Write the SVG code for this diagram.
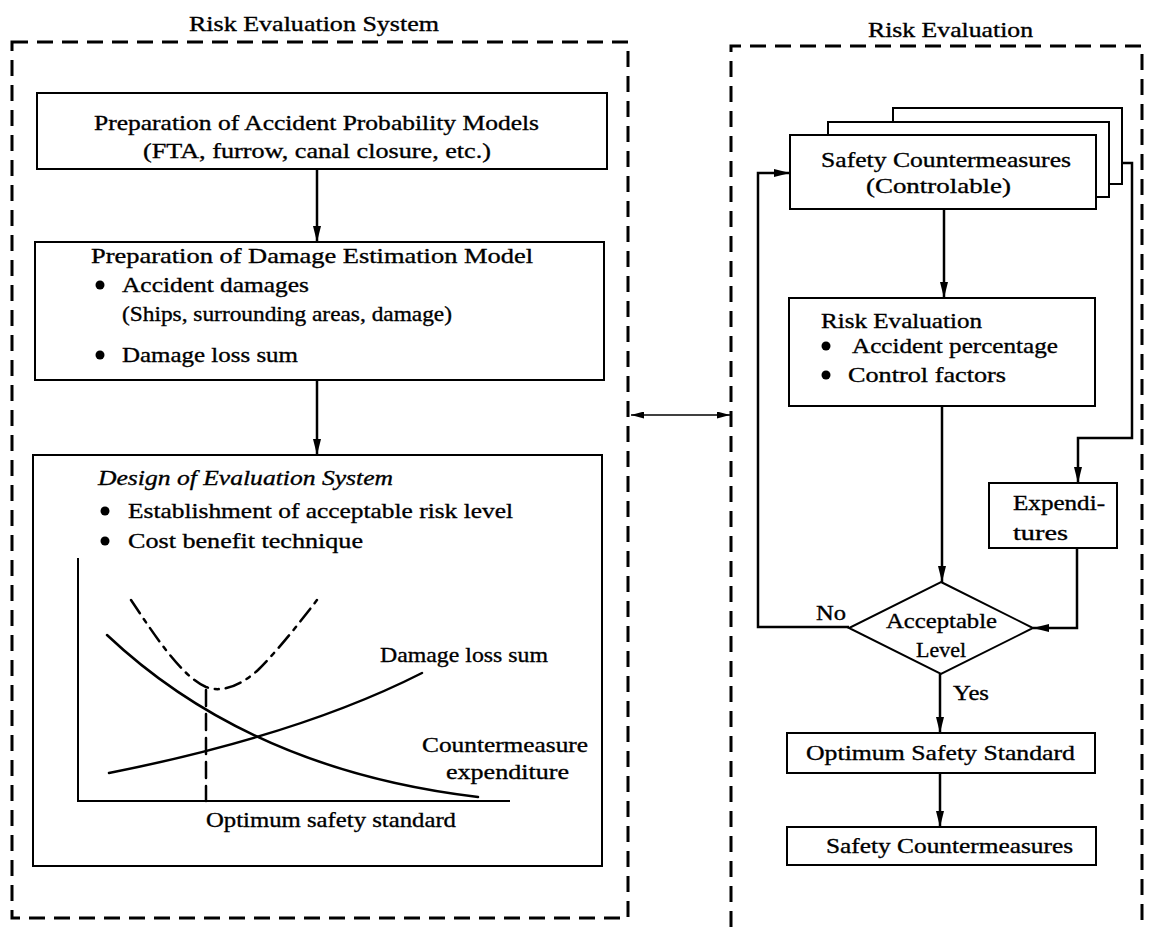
<svg xmlns="http://www.w3.org/2000/svg" width="1149" height="927" viewBox="0 0 1149 927">
  <style>
    .t { font-family: "Liberation Serif", "Times New Roman", serif; font-size: 22px; fill: #000; stroke: #000; stroke-width: 0.35; }
    .it { font-style: italic; }
    .box { fill: #fff; stroke: #000; stroke-width: 2; }
    .frame { fill: none; stroke: #000; stroke-width: 3; stroke-dasharray: 16 9; }
    .conn { fill: none; stroke: #000; stroke-width: 2.5; }
    .thin { fill: none; stroke: #000; stroke-width: 1.6; }
    .axis { fill: none; stroke: #000; stroke-width: 2; }
    .curve { fill: none; stroke: #000; stroke-width: 2.5; stroke-linecap: round; }
    .dot { fill: #000; }
  </style>
  <defs>
    <!-- filled arrowhead, pointing along the path direction -->
    <marker id="tip" markerUnits="userSpaceOnUse" markerWidth="16" markerHeight="8" refX="16" refY="4" orient="auto-start-reverse" viewBox="0 0 16 8">
      <path d="M0,0 L16,4 L0,8 z" fill="#000"/>
    </marker>
    <marker id="tip-small" markerUnits="userSpaceOnUse" markerWidth="13" markerHeight="7" refX="13" refY="3.5" orient="auto-start-reverse" viewBox="0 0 13 7">
      <path d="M0,0 L13,3.5 L0,7 z" fill="#000"/>
    </marker>
  </defs>
  <rect width="1149" height="927" fill="#fff"/>

  <!-- dashed system frames and their headings -->
  <g id="frame-system">
    <rect class="frame" x="12" y="42" width="616" height="876"/>
    <text class="t" x="189" y="31" textLength="250" lengthAdjust="spacingAndGlyphs">Risk Evaluation System</text>
  </g>
  <g id="frame-evaluation">
    <path class="frame" d="M731,927 V46 H1142 V927"/>
    <text class="t" x="868" y="37" textLength="165" lengthAdjust="spacingAndGlyphs">Risk Evaluation</text>
  </g>

  <!-- left column -->
  <g id="probability-models">
    <rect class="box" x="37" y="93" width="570" height="76"/>
    <text class="t" x="94" y="130" textLength="445" lengthAdjust="spacingAndGlyphs">Preparation of Accident Probability Models</text>
    <text class="t" x="143" y="158" textLength="348" lengthAdjust="spacingAndGlyphs">(FTA, furrow, canal closure, etc.)</text>
  </g>

  <g id="damage-model">
    <rect class="box" x="35" y="242" width="569" height="138"/>
    <text class="t" x="91" y="263" textLength="442" lengthAdjust="spacingAndGlyphs">Preparation of Damage Estimation Model</text>
    <circle class="dot" cx="100" cy="285" r="4.5"/>
    <text class="t" x="122" y="292" textLength="187" lengthAdjust="spacingAndGlyphs">Accident damages</text>
    <text class="t" x="122" y="321" textLength="330" lengthAdjust="spacingAndGlyphs">(Ships, surrounding areas, damage)</text>
    <circle class="dot" cx="100" cy="355" r="4.5"/>
    <text class="t" x="122" y="362" textLength="176" lengthAdjust="spacingAndGlyphs">Damage loss sum</text>
  </g>

  <g id="evaluation-design">
    <rect class="box" x="33" y="455" width="569" height="411"/>
    <text class="t it" x="98" y="485" textLength="295" lengthAdjust="spacingAndGlyphs">Design of Evaluation System</text>
    <circle class="dot" cx="105" cy="511" r="4.5"/>
    <text class="t" x="128" y="518" textLength="385" lengthAdjust="spacingAndGlyphs">Establishment of acceptable risk level</text>
    <circle class="dot" cx="105" cy="541" r="4.5"/>
    <text class="t" x="128" y="548" textLength="235" lengthAdjust="spacingAndGlyphs">Cost benefit technique</text>

    <!-- cost-benefit chart -->
    <path class="axis" d="M78,558 V801 H510"/>
    <path class="curve" d="M131,600 C150,628 180,676 206,687 C222,693 240,686 258,670 C280,648 300,622 317,600" stroke-dasharray="16 7 4 7"/>
    <path class="curve" d="M107,635 Q250,770 478,797"/>
    <path class="curve" d="M109,773 Q300,735 422,673"/>
    <line class="curve" x1="206" y1="690" x2="206" y2="801" stroke-dasharray="16 8" stroke-linecap="butt"/>
    <text class="t" x="380" y="662" textLength="168" lengthAdjust="spacingAndGlyphs">Damage loss sum</text>
    <text class="t" x="422" y="752" textLength="166" lengthAdjust="spacingAndGlyphs">Countermeasure</text>
    <text class="t" x="446" y="779" textLength="123" lengthAdjust="spacingAndGlyphs">expenditure</text>
    <text class="t" x="206" y="827" textLength="250" lengthAdjust="spacingAndGlyphs">Optimum safety standard</text>
  </g>

  <!-- right column -->
  <g id="safety-countermeasures-stack">
    <rect class="box" x="893" y="108" width="229" height="76"/>
    <rect class="box" x="828" y="122" width="281" height="75"/>
    <rect class="box" x="790" y="135" width="306" height="74"/>
    <text class="t" x="821" y="167" textLength="250" lengthAdjust="spacingAndGlyphs">Safety Countermeasures</text>
    <text class="t" x="866" y="193" textLength="145" lengthAdjust="spacingAndGlyphs">(Controlable)</text>
  </g>

  <g id="risk-evaluation">
    <rect class="box" x="789" y="298" width="306" height="108"/>
    <text class="t" x="821" y="328" textLength="161" lengthAdjust="spacingAndGlyphs">Risk Evaluation</text>
    <circle class="dot" cx="826" cy="346" r="4.5"/>
    <text class="t" x="852" y="353" textLength="206" lengthAdjust="spacingAndGlyphs">Accident percentage</text>
    <circle class="dot" cx="826" cy="375" r="4.5"/>
    <text class="t" x="848" y="382" textLength="158" lengthAdjust="spacingAndGlyphs">Control factors</text>
  </g>

  <g id="expenditures">
    <rect class="box" x="989" y="483" width="128" height="65"/>
    <text class="t" x="1013" y="510" textLength="92" lengthAdjust="spacingAndGlyphs">Expendi-</text>
    <text class="t" x="1013" y="540" textLength="55" lengthAdjust="spacingAndGlyphs">tures</text>
  </g>

  <g id="acceptable-level">
    <polygon class="box" points="941,582 1033,628 941,674 849,628"/>
    <text class="t" x="886" y="628" textLength="111" lengthAdjust="spacingAndGlyphs">Acceptable</text>
    <text class="t" x="916" y="657" textLength="50" lengthAdjust="spacingAndGlyphs">Level</text>
  </g>

  <g id="optimum-standard">
    <rect class="box" x="787" y="733" width="308" height="40"/>
    <text class="t" x="806" y="760" textLength="269" lengthAdjust="spacingAndGlyphs">Optimum Safety Standard</text>
  </g>

  <g id="safety-countermeasures">
    <rect class="box" x="787" y="827" width="309" height="38"/>
    <text class="t" x="826" y="853" textLength="247" lengthAdjust="spacingAndGlyphs">Safety Countermeasures</text>
  </g>

  <!-- connectors -->
  <g id="connectors">
    <line class="conn" x1="317" y1="169" x2="317" y2="242" marker-end="url(#tip)"/>
    <line class="conn" x1="317" y1="380" x2="317" y2="455" marker-end="url(#tip)"/>
    <line class="thin" x1="631" y1="415" x2="730" y2="415" marker-start="url(#tip-small)" marker-end="url(#tip-small)"/>
    <line class="conn" x1="944" y1="209" x2="944" y2="298" marker-end="url(#tip)"/>
    <line class="conn" x1="942" y1="406" x2="942" y2="582" marker-end="url(#tip)"/>
    <line class="conn" x1="940" y1="674" x2="940" y2="733" marker-end="url(#tip)"/>
    <line class="conn" x1="940" y1="773" x2="940" y2="827" marker-end="url(#tip)"/>
    <polyline class="conn" points="849,627 758,627 758,173 790,173" marker-end="url(#tip)"/>
    <polyline class="conn" points="1122,163 1132,163 1132,438 1078,438 1078,483" marker-end="url(#tip)"/>
    <polyline class="conn" points="1077,548 1077,628 1033,628" marker-end="url(#tip)"/>
    <text class="t" x="816" y="620" textLength="30" lengthAdjust="spacingAndGlyphs">No</text>
    <text class="t" x="953" y="700" textLength="36" lengthAdjust="spacingAndGlyphs">Yes</text>
  </g>
</svg>
